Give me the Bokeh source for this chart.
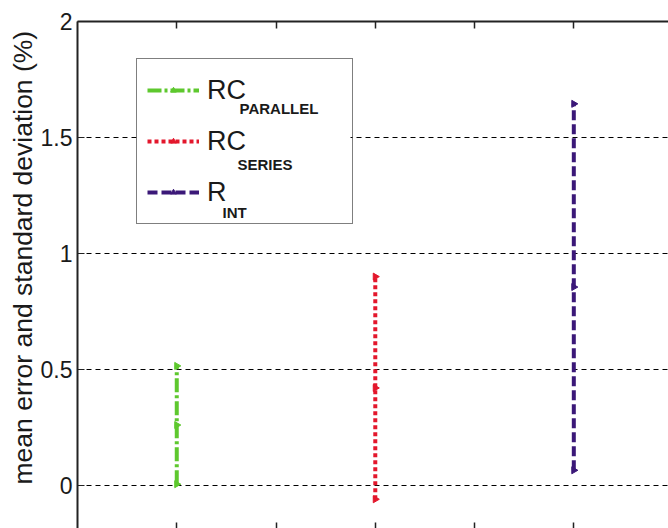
import math
from bokeh.plotting import figure
from bokeh.models import (ColumnDataSource, Range1d, LinearAxis, FixedTicker,
                          Legend, LegendItem, Label, BoxAnnotation, Title)
from bokeh.embed import file_html
from bokeh.resources import INLINE

# --- data -------------------------------------------------------------
label_main = ["RC", "RC", "R"]
label_sub = ["PARALLEL", "SERIES", "INT"]
x_pos = [1, 2, 3]
mean_error = [0.26, 0.42, 0.855]
std_dev = [0.255, 0.48, 0.79]
colors = ["#5ec82e", "#e3172c", "#3b1878"]
dashes = ["14 3 3 3", "4 3", "10 4"]
y_ticks = [0, 0.5, 1, 1.5, 2]
x_ticks = [1, 1.5, 2, 2.5, 3]
y_title = "mean error and standard deviation (%)"

FONT = "Liberation Sans"
AXIS_COLOR = "#222222"
TEXT_COLOR = "#1a1a1a"

p = figure(width=668, height=528, output_backend="svg", toolbar_location=None,
           x_range=Range1d(0.5, 3.477), y_range=Range1d(-0.186, 2.0),
           min_border_left=77, min_border_top=21, min_border_right=0,
           min_border_bottom=0)
p.outline_line_color = None
p.background_fill_color = "white"
p.border_fill_color = "white"

# left axis with labels, ticks pointing into the box
yax = p.yaxis[0]
yax.ticker = FixedTicker(ticks=y_ticks)
yax.major_tick_in = 7
yax.major_tick_out = 0
yax.minor_tick_line_color = None
yax.major_label_standoff = 5
yax.major_label_text_font = FONT
yax.major_label_text_font_size = "23px"
yax.major_label_text_color = TEXT_COLOR
yax.axis_line_width = 2
yax.axis_line_color = AXIS_COLOR
yax.major_tick_line_color = AXIS_COLOR

# vertical title beside the axis, starting a little above the frame bottom
p.add_layout(Title(text=y_title, align="left", offset=44, standoff=0,
                   text_font=FONT, text_font_size="26.5px",
                   text_font_style="normal", text_color=TEXT_COLOR), "left")

# bottom axis: inward ticks only, no tick labels
xax = p.xaxis[0]
xax.ticker = FixedTicker(ticks=x_ticks)
xax.major_tick_in = 6
xax.major_tick_out = 0
xax.minor_tick_line_color = None
xax.major_label_text_font_size = "0px"
xax.major_label_text_color = None
xax.major_label_standoff = 0
xax.axis_line_color = None
xax.major_tick_line_color = AXIS_COLOR
xax.major_tick_line_width = 1.5

# top axis: box edge with inward ticks
top = LinearAxis(ticker=FixedTicker(ticks=x_ticks), major_tick_in=7,
                 major_tick_out=0, minor_tick_line_color=None,
                 major_label_text_font_size="0px", major_label_text_color=None,
                 major_label_standoff=0,
                 axis_line_width=2, axis_line_color=AXIS_COLOR,
                 major_tick_line_color=AXIS_COLOR, major_tick_line_width=1.5)
p.add_layout(top, "above")

p.xgrid.visible = False
p.ygrid.grid_line_color = "black"
p.ygrid.grid_line_dash = "5 4"
p.ygrid.grid_line_width = 1

frame_bottom = 527

# white panel under the legend so that the grid stops at its border
p.add_layout(BoxAnnotation(left=136 - 77, right=350 - 77,
                           top=frame_bottom - 59, bottom=frame_bottom - 223,
                           left_units="screen", right_units="screen",
                           top_units="screen", bottom_units="screen",
                           fill_color="white", fill_alpha=1.0,
                           line_color=None, level="underlay"))

# error bars: mean +/- standard deviation
items = []
for i in range(len(x_pos)):
    lo = mean_error[i] - std_dev[i]
    hi = mean_error[i] + std_dev[i]
    bar_src = ColumnDataSource(dict(x0=[x_pos[i]], y0=[lo], x1=[x_pos[i]], y1=[hi]))
    seg = p.segment(x0="x0", y0="y0", x1="x1", y1="y1", source=bar_src,
                    line_color=colors[i], line_width=4, line_dash=dashes[i])
    pt_src = ColumnDataSource(dict(x=[x_pos[i]] * 3, y=[lo, mean_error[i], hi]))
    pts = p.scatter(x="x", y="y", source=pt_src, marker="triangle",
                    angle=-math.pi / 2, size=7, fill_color=colors[i],
                    line_color=colors[i])
    items.append(LegendItem(label=label_main[i], renderers=[seg, pts]))

legend = Legend(items=items, location=(59, frame_bottom - 223),
                padding=10, spacing=9, margin=0,
                glyph_height=14, glyph_width=52, label_standoff=8,
                label_width=135, label_height=42,
                label_text_font=FONT, label_text_font_size="27px",
                label_text_color=TEXT_COLOR, label_text_line_height=0.8,
                border_line_color="black", border_line_width=1.5,
                background_fill_alpha=0.0)
p.add_layout(legend, "center")

# subscripts of the legend entries
sub_x = [239, 237, 222]
sub_base = [107, 163, 211]
for i in range(len(label_sub)):
    p.add_layout(Label(x=sub_x[i] - 77, y=frame_bottom - sub_base[i],
                       x_units="screen", y_units="screen", text=label_sub[i],
                       text_font=FONT, text_font_size="15px",
                       text_font_style="bold", text_color=TEXT_COLOR,
                       text_baseline="alphabetic"))

open("out.html", "w").write(file_html(p, INLINE))
